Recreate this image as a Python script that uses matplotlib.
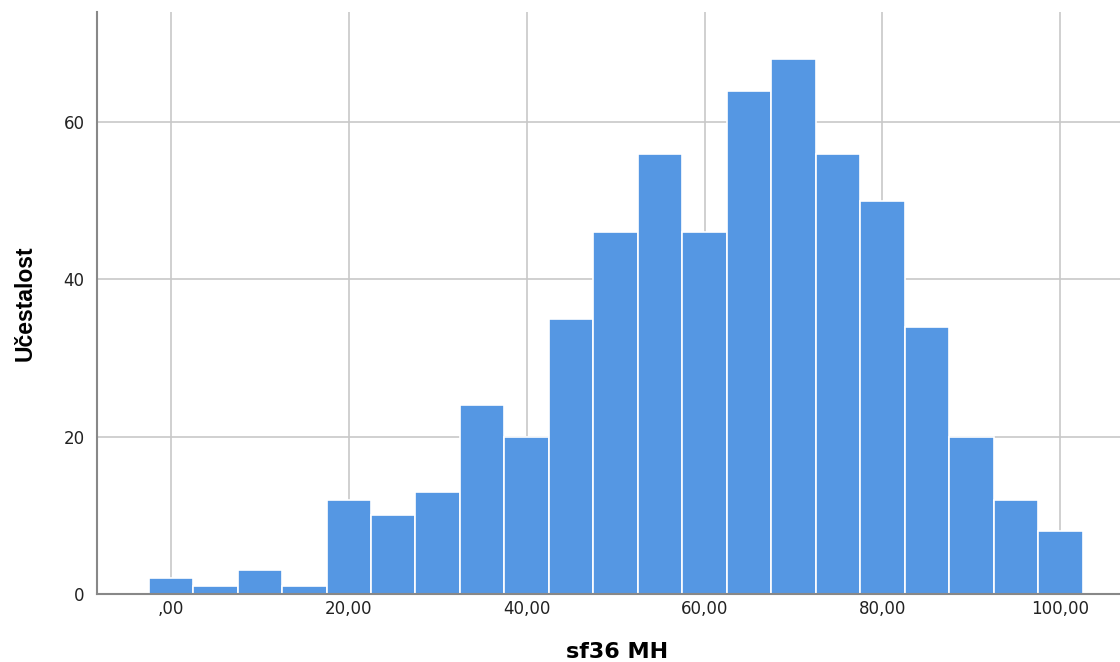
import matplotlib
matplotlib.use("Agg")
import matplotlib.pyplot as plt
import numpy as np

bin_centers = [0, 5, 10, 15, 20, 25, 30, 35, 40, 45, 50, 55, 60, 65, 70, 75, 80, 85, 90, 95, 100]
counts = [2, 1, 3, 1, 12, 10, 13, 24, 20, 35, 46, 56, 46, 64, 68, 56, 50, 34, 20, 12, 8]
x_ticks = [0, 20, 40, 60, 80, 100]
x_tick_labels = [",00", "20,00", "40,00", "60,00", "80,00", "100,00"]
y_ticks = [0, 20, 40, 60]

plt.rcParams['font.family'] = ['Liberation Sans', 'DejaVu Sans']

fig = plt.figure(figsize=(11.2, 6.62), dpi=100)
ax = fig.add_axes([97/1120, 1 - 594/662, 1 - 97/1120, (594 - 12)/662])

ax.bar(bin_centers, counts, width=5, color='#5597e3', edgecolor='white', linewidth=1.2, zorder=3)

ax.set_xlim(-8.3, 106.7)
ax.set_ylim(0, 74)
ax.set_xticks(x_ticks)
ax.set_xticklabels(x_tick_labels)
ax.set_yticks(y_ticks)
ax.tick_params(axis='both', length=0, labelsize=12, colors='#222222')
ax.tick_params(axis='x', pad=4)
ax.tick_params(axis='y', pad=9)
for lab in ax.get_xticklabels() + ax.get_yticklabels():
    lab.set_family('DejaVu Sans')
ax.grid(True, color='#c8c8c8', linewidth=1.2, zorder=0)
ax.set_axisbelow(True)

for s in ['top', 'right']:
    ax.spines[s].set_visible(False)
for s in ['left', 'bottom']:
    ax.spines[s].set_color('#888888')
    ax.spines[s].set_linewidth(1.5)
    ax.spines[s].set_zorder(4)

ax.set_xlabel('sf36 MH', fontsize=16, fontweight='bold', family='DejaVu Sans')
ax.set_ylabel('Učestalost', fontsize=16.5, fontweight='bold', family='Liberation Sans')
ax.xaxis.set_label_coords((617 - 97) / (1120 - 97), -(652 - 594) / (594 - 12))
ax.yaxis.set_label_coords(-(97 - 25) / (1120 - 97), (594 - 303) / (594 - 12))
ax.xaxis.label.set_va('center')
ax.yaxis.label.set_va('center')

fig.savefig('out.png', dpi=100)
